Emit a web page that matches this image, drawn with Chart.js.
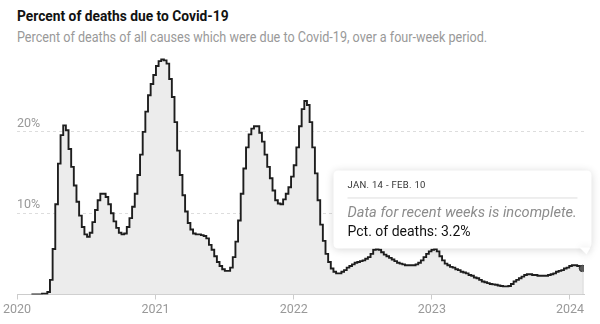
<!DOCTYPE html>
<html lang="en">
<head>
<meta charset="UTF-8">
<title>Percent of deaths due to Covid-19</title>
<script src="https://cdn.jsdelivr.net/npm/chart.js"></script>
<style>
  body { margin: 0; background: #fff; }
  .wrap { position: relative; width: 600px; height: 324px; overflow: hidden; font-family: Roboto, "Liberation Sans", sans-serif; }
  .title { position: absolute; left: 17px; top: 8px; font-size: 14.5px; font-weight: bold; color: #121212; white-space: nowrap; transform-origin: 0 0; }
  .subtitle { position: absolute; left: 17px; top: 29px; font-size: 14px; color: #999; white-space: nowrap; transform-origin: 0 0; }
  canvas { position: absolute; left: 0; top: 0; }
</style>
</head>
<body>
<div class="wrap">
  <div class="title" id="title">Percent of deaths due to Covid-19</div>
  <div class="subtitle" id="subtitle">Percent of deaths of all causes which were due to Covid-19, over a four-week period.</div>
  <canvas id="deathsChart" width="600" height="324"></canvas>
</div>
<script>
  // x axis is in days after Jan 1, 2020
  const yearTicks = [0, 366, 731, 1096, 1461];
  const yearLabels = ["2020", "2021", "2022", "2023", "2024"];
  const pctTicks = [10, 20];
  const pctLabels = ["10%", "20%"];

  // one value per week, first week is Feb 8, 2020
  const firstWeekDay = 38;
  const weekDays = 7;
  const pctDeaths = [
    0, 0, 0, 0, 0.1, 0.1, 0.3, 1.8, 5.6, 11.1,
    16.1, 19.6, 20.8, 20.2, 17.9, 15.7, 13.4, 11.4, 9.7, 8.3,
    7.4, 7.1, 7.6, 8.9, 10.4, 11.6, 12.4, 12.4, 12.0, 11.1,
    10.0, 9.0, 8.2, 7.6, 7.4, 7.5, 8.3, 9.4, 10.8, 12.4,
    14.7, 17.2, 20.0, 22.5, 24.5, 25.9, 27.0, 28.1, 28.7, 28.9,
    28.8, 28.4, 26.5, 24.3, 21.2, 17.7, 14.7, 12.2, 10.2, 8.8,
    8.0, 7.5, 7.4, 7.4, 7.3, 7.2, 6.9, 6.1, 5.5, 4.7,
    4.0, 3.5, 3.1, 2.9, 2.9, 3.3, 4.6, 6.5, 9.1, 12.4,
    15.5, 18.1, 19.7, 20.4, 20.7, 20.7, 19.9, 18.8, 17.2, 15.7,
    14.3, 12.8, 11.6, 11.2, 11.1, 11.7, 12.4, 13.2, 14.5, 15.9,
    18.1, 20.7, 22.8, 23.8, 23.3, 21.2, 18.1, 14.9, 11.6, 8.6,
    6.6, 5.0, 4.0, 3.2, 2.8, 2.6, 2.6, 2.8, 3.0, 3.3,
    3.5, 3.7, 3.9, 4.0, 4.1, 4.2, 4.4, 4.6, 5.0, 5.5,
    5.6, 5.5, 5.2, 4.9, 4.7, 4.5, 4.3, 4.1, 3.9, 3.8,
    3.7, 3.6, 3.6, 3.6, 3.6, 3.7, 3.9, 4.2, 4.6, 5.0,
    5.3, 5.5, 5.6, 5.3, 4.7, 4.2, 3.8, 3.6, 3.4, 3.3,
    3.1, 3.0, 2.8, 2.7, 2.6, 2.4, 2.3, 2.1, 2.0, 1.8,
    1.6, 1.5, 1.4, 1.3, 1.25, 1.2, 1.1, 1.05, 1.0, 1.0,
    1.05, 1.3, 1.6, 1.8, 2.0, 2.2, 2.4, 2.5, 2.5, 2.4,
    2.4, 2.3, 2.3, 2.3, 2.3, 2.4, 2.5, 2.6, 2.8, 2.9,
    3.0, 3.2, 3.3, 3.5, 3.6, 3.6, 3.5, 3.3, 3.2
  ];

  const tooltipDate = "JAN. 14 - FEB. 10";
  const tooltipNote = "Data for recent weeks is incomplete.";
  const tooltipValue = "Pct. of deaths: 3.2%";

  // squeeze header text to the narrow width of the original typeface
  function fitText(id, width) {
    const el = document.getElementById(id);
    el.style.transform = "scaleX(" + (width / el.offsetWidth) + ")";
  }
  fitText("title", 212);
  fitText("subtitle", 470);

  const points = pctDeaths.map((v, i) => ({ x: firstWeekDay + i * weekDays, y: v }));
  const lastIndex = points.length - 1;

  function roundRect(ctx, x, y, w, h, r) {
    ctx.beginPath();
    ctx.moveTo(x + r, y);
    ctx.lineTo(x + w - r, y);
    ctx.quadraticCurveTo(x + w, y, x + w, y + r);
    ctx.lineTo(x + w, y + h - r);
    ctx.quadraticCurveTo(x + w, y + h, x + w - r, y + h);
    ctx.lineTo(x + r, y + h);
    ctx.quadraticCurveTo(x, y + h, x, y + h - r);
    ctx.lineTo(x, y + r);
    ctx.quadraticCurveTo(x, y, x + r, y);
    ctx.closePath();
  }

  // right edge of the shaded area + the hover card on the latest week
  const latestCard = {
    id: "latestCard",
    afterDatasetsDraw(chart) {
      const ctx = chart.ctx;
      const pt = chart.getDatasetMeta(0).data[lastIndex];
      const base = chart.scales.y.getPixelForValue(0);

      ctx.save();
      ctx.strokeStyle = "#cfcfcf";
      ctx.lineWidth = 1;
      ctx.beginPath();
      ctx.moveTo(pt.x + 0.5, pt.y + 3);
      ctx.lineTo(pt.x + 0.5, base);
      ctx.stroke();

      const right = pt.x + 9;
      const bottom = pt.y - 20;
      const w = 258, h = 78;
      const left = right - w, top = bottom - h;

      ctx.shadowColor = "rgba(0,0,0,0.16)";
      ctx.shadowBlur = 9;
      ctx.shadowOffsetY = 1;
      ctx.fillStyle = "#fff";
      roundRect(ctx, left, top, w, h, 5);
      ctx.fill();
      ctx.beginPath();
      ctx.moveTo(pt.x - 3, bottom - 1);
      ctx.lineTo(right - 1, bottom - 1);
      ctx.lineTo(pt.x + 4, bottom + 6);
      ctx.closePath();
      ctx.fill();
      ctx.shadowColor = "transparent";

      ctx.textBaseline = "alphabetic";
      ctx.textAlign = "left";
      ctx.fillStyle = "#333";
      ctx.font = "9.5px Roboto, 'Liberation Sans', sans-serif";
      ctx.letterSpacing = "0.3px";
      ctx.fillText(tooltipDate, left + 14, top + 18);
      ctx.letterSpacing = "0px";

      ctx.strokeStyle = "#dedede";
      ctx.beginPath();
      ctx.moveTo(left + 14, top + 27.5);
      ctx.lineTo(right - 14, top + 27.5);
      ctx.stroke();

      ctx.fillStyle = "#8c8c8c";
      ctx.font = "italic 14.6px Roboto, 'Liberation Sans', sans-serif";
      ctx.fillText(tooltipNote, left + 14, top + 47);
      ctx.fillStyle = "#121212";
      ctx.font = "14px Roboto, 'Liberation Sans', sans-serif";
      ctx.fillText(tooltipValue, left + 14, top + 66);
      ctx.restore();
    }
  };

  new Chart(document.getElementById("deathsChart"), {
    type: "line",
    data: {
      datasets: [{
        data: points,
        stepped: true,
        fill: "origin",
        backgroundColor: "#ececec",
        borderColor: "#1e1e1e",
        borderWidth: 1.9,
        pointRadius: ctx => ctx.dataIndex === lastIndex ? 3.2 : 0,
        pointBackgroundColor: "#5a5a5a",
        pointBorderColor: "#333",
        pointBorderWidth: 1
      }]
    },
    options: {
      responsive: false,
      animation: false,
      events: [],
      layout: { padding: { left: 17, right: 16, top: 50.6, bottom: 0 } },
      plugins: {
        legend: { display: false },
        tooltip: { enabled: false }
      },
      scales: {
        x: {
          type: "linear",
          min: 0,
          max: 1498,
          afterBuildTicks: s => { s.ticks = yearTicks.map(v => ({ value: v })); },
          afterFit: s => { s.height = 29.5; },
          grid: { drawOnChartArea: false, drawTicks: true, tickLength: 5, color: "#cccccc" },
          border: { color: "#cccccc" },
          ticks: {
            autoSkip: false,
            maxRotation: 0,
            padding: 3,
            color: "#999",
            font: { family: "Roboto, 'Liberation Sans', sans-serif", size: 12.5 },
            callback: (v, i) => yearLabels[i]
          }
        },
        y: {
          min: 0,
          max: 30,
          afterBuildTicks: s => { s.ticks = pctTicks.map(v => ({ value: v })); },
          afterFit: s => { s.width = 0; },
          grid: { drawTicks: false, color: "#dddddd" },
          border: { display: false, dash: [3, 3] },
          ticks: {
            mirror: true,
            padding: 0,
            labelOffset: -8,
            color: "#999",
            font: { family: "Roboto, 'Liberation Sans', sans-serif", size: 12.5 },
            callback: (v, i) => pctLabels[i]
          }
        }
      }
    },
    plugins: [latestCard]
  });
</script>
</body>
</html>
